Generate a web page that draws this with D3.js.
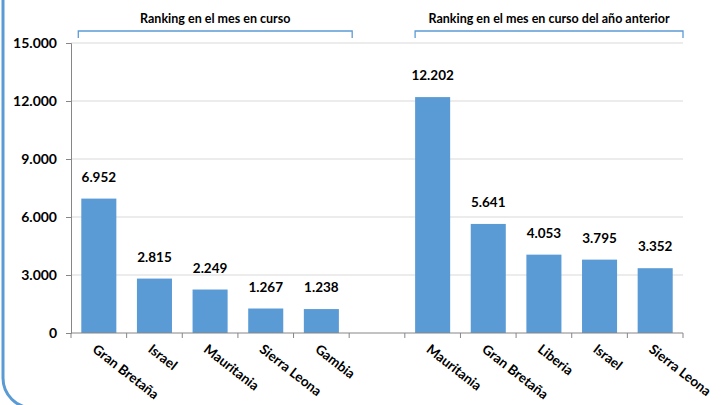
<!DOCTYPE html>
<html>
<head>
<meta charset="utf-8">
<script src="https://cdn.jsdelivr.net/npm/d3@7"></script>
<style>
  body { margin: 0; background: #fff; }
  text { font-family: Lato, "Open Sans", sans-serif; font-weight: bold; fill: #000; }
</style>
</head>
<body>
<script>
// data
var currentCountries = ["Gran Bretaña", "Israel", "Mauritania", "Sierra Leona", "Gambia"];
var currentValues = [6952, 2815, 2249, 1267, 1238];
var lastYearCountries = ["Mauritania", "Gran Bretaña", "Liberia", "Israel", "Sierra Leona"];
var lastYearValues = [12202, 5641, 4053, 3795, 3352];
var yTicks = [0, 3000, 6000, 9000, 12000, 15000];
var groupTitles = ["Ranking en el mes en curso", "Ranking en el mes en curso del año anterior"];

var width = 725, height = 405;
var barColor = "#5b9bd5";

// one row per slot, an empty slot between the two groups
var rows = [];
currentCountries.forEach(function(c, i) {
    rows.push({key: "a" + i, name: c, value: currentValues[i]});
});
rows.push({key: "gap", name: "", value: null});
lastYearCountries.forEach(function(c, i) {
    rows.push({key: "p" + i, name: c, value: lastYearValues[i]});
});

var svg = d3.select("body").append("svg")
    .attr("width", width)
    .attr("height", height);

// outer frame, only the left side and bottom-left corner show
svg.append("path")
    .attr("d", "M3,-5 V378 A30 30 0 0 0 33,408")
    .attr("fill", "none")
    .attr("stroke", barColor)
    .attr("stroke-width", 3);

var x = d3.scaleBand()
    .domain(rows.map(function(d) { return d.key; }))
    .range([71, 683])
    .paddingInner(0.37)
    .paddingOuter(0.185);

var y = d3.scaleLinear()
    .domain([0, 15000])
    .range([333, 43]);

var step = x.step();
function slotStart(key) { return x(key) - (step - x.bandwidth()) / 2; }

// gridlines
svg.append("g")
    .selectAll("line")
    .data(yTicks.slice(1))
    .enter()
    .append("line")
    .attr("x1", 71)
    .attr("x2", 683)
    .attr("y1", function(d) { return y(d); })
    .attr("y2", function(d) { return y(d); })
    .attr("stroke", "#d9d9d9")
    .attr("stroke-width", 1);

// y axis
var yAxis = svg.append("g")
    .attr("transform", "translate(71,0)")
    .call(d3.axisLeft(y).tickValues(yTicks).tickSize(5).tickPadding(9)
        .tickFormat(function(d) { return d3.format(",")(d).replace(/,/g, "."); }));
yAxis.select(".domain").attr("stroke", "#868686");
yAxis.selectAll(".tick line").attr("stroke", "#868686");
yAxis.selectAll("text")
    .style("font-size", "14px")
    .style("font-family", "Lato, sans-serif")
    .style("font-weight", "bold")
    .attr("fill", "#000");

// bars
svg.append("g")
    .selectAll("rect")
    .data(rows.filter(function(d) { return d.value !== null; }))
    .enter()
    .append("rect")
    .attr("x", function(d) { return x(d.key); })
    .attr("y", function(d) { return y(d.value); })
    .attr("width", x.bandwidth())
    .attr("height", function(d) { return y(0) - y(d.value); })
    .attr("fill", barColor);

// value labels
svg.append("g")
    .selectAll("text")
    .data(rows.filter(function(d) { return d.value !== null; }))
    .enter()
    .append("text")
    .attr("x", function(d) { return x(d.key) + x.bandwidth() / 2; })
    .attr("y", function(d) { return y(d.value) - 17; })
    .attr("text-anchor", "middle")
    .style("font-size", "13.5px")
    .text(function(d) { return d3.format(",")(d.value).replace(/,/g, "."); });

// x axis line and slot ticks
svg.append("line")
    .attr("x1", 71).attr("x2", 683)
    .attr("y1", y(0)).attr("y2", y(0))
    .attr("stroke", "#868686");

var bounds = rows.map(function(d) { return slotStart(d.key); });
bounds.push(683);
svg.append("g")
    .selectAll("line")
    .data(bounds)
    .enter()
    .append("line")
    .attr("x1", function(d) { return d; })
    .attr("x2", function(d) { return d; })
    .attr("y1", y(0))
    .attr("y2", y(0) + 5)
    .attr("stroke", "#868686");

// rotated category labels
svg.append("g")
    .selectAll("text")
    .data(rows.filter(function(d) { return d.name !== ""; }))
    .enter()
    .append("text")
    .attr("transform", function(d) {
        return "translate(" + (x(d.key) + x.bandwidth() / 2 - 1) + "," + 343 + ") rotate(38)";
    })
    .attr("dy", "0.75em")
    .attr("text-anchor", "start")
    .style("font-size", "13.5px")
    .text(function(d) { return d.name; });

// group brackets with titles
var brackets = [
    {x1: x("a0") - 3, x2: slotStart("gap") + 3, title: groupTitles[0]},
    {x1: x("p0"), x2: 683, title: groupTitles[1]}
];
var br = svg.append("g")
    .selectAll("g")
    .data(brackets)
    .enter()
    .append("g");

br.append("path")
    .attr("d", function(d) {
        return "M" + d.x1 + ",38 V31 H" + d.x2 + " V38";
    })
    .attr("fill", "none")
    .attr("stroke", barColor)
    .attr("stroke-width", 1.3);

br.append("text")
    .attr("x", function(d) { return (d.x1 + d.x2) / 2; })
    .attr("y", 23)
    .attr("text-anchor", "middle")
    .style("font-size", "12.5px")
    .text(function(d) { return d.title; });
</script>
</body>
</html>
